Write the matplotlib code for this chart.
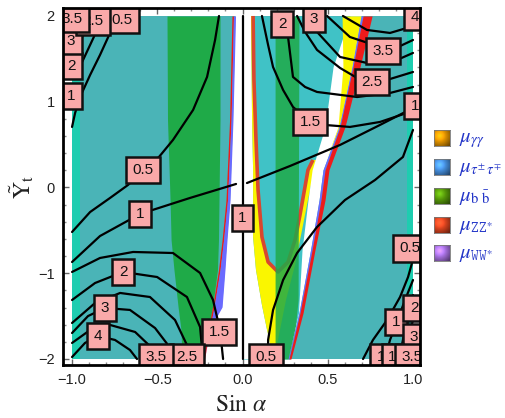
import numpy as np
import matplotlib
matplotlib.use('Agg')
import matplotlib.pyplot as plt
from matplotlib.ticker import MultipleLocator

plt.rcParams['mathtext.fontset'] = 'stix'
plt.rcParams['font.family'] = ['Liberation Sans', 'DejaVu Sans']

# ---------------- axes / ticks ----------------
SIN_ALPHA_RANGE = [-1.0, 1.0]
YT_RANGE = [-2.0, 2.0]
X_TICKS = [-1.0, -0.5, 0.0, 0.5, 1.0]
X_TICK_LABELS = ['\u22121.0', '\u22120.5', '0.0', '0.5', '1.0']
Y_TICKS = [-2, -1, 0, 1, 2]
Y_TICK_LABELS = ['\u22122', '\u22121', '0', '1', '2']

# ---------------- allowed regions ----------------
STRIP_L = [-1.0, -0.955]
STRIP_R = [0.965, 1.0]

YL = [2.0, 0.787, -0.146, -0.612, -0.962, -1.394, -1.662, -2.0]
GREEN_L_LEFT = [-0.443, -0.440, -0.425, -0.419, -0.402, -0.378, -0.361, -0.355]
GREEN_L_RIGHT = [-0.132, -0.132, -0.138, -0.141, -0.147, -0.176, -0.202, -0.232]
RED_L_LEFT = [-0.062, -0.076, -0.097, -0.120, -0.141, -0.176, -0.202, -0.232]
RED_L_RIGHT = [-0.053, -0.067, -0.088, -0.111, -0.132, -0.167, -0.193, -0.223]
BLUE_L_RIGHT = [-0.041, -0.056, -0.073, -0.091, -0.103, -0.120, -0.196, -0.223]

WHITE_C_Y = [2.0, 0.787, 0.204, -0.577, -0.962, -1.370, -1.662, -1.895, -2.0]
WHITE_C_X = [0.050, 0.056, 0.062, 0.062, 0.079, 0.114, 0.144, 0.173, 0.191]

YR = [2.0, 1.405, 0.706, 0.204, -0.146, -0.729, -1.464, -2.0]
RED_R_RIGHT = [0.760, 0.689, 0.601, 0.507, 0.484, 0.425, 0.355, 0.284]
RED_R_LEFT = [0.707, 0.648, 0.572, 0.484, 0.460, 0.408, 0.337, 0.273]
BLUE_R_LEFT = [0.695, 0.642, 0.566, 0.472, 0.449, 0.399, 0.331, 0.267]
WEDGE_LEFT = [0.630, 0.531, 0.484, 0.408, 0.384, 0.349, 0.328, 0.267]

YT = [2.0, 1.405, 0.706, 0.321]
YT_LEFT = [0.584, 0.589, 0.560, 0.490]
YT_RIGHT = [0.695, 0.642, 0.566, 0.490]

U_OUTER_X = [0.050, 0.056, 0.062, 0.062, 0.079, 0.114, 0.144, 0.167, 0.185, 0.202,
             0.255, 0.308, 0.349, 0.384, 0.413, 0.431]
U_OUTER_Y = [2.0, 0.787, 0.204, -0.577, -0.962, -1.370, -1.662, -1.872, -1.942, -1.837,
             -1.312, -0.904, -0.496, -0.146, 0.146, 0.321]
U_RED_X = [0.413, 0.384, 0.337, 0.308, 0.267, 0.208, 0.150, 0.114, 0.091, 0.079, 0.067, 0.062]
U_RED_Y = [0.321, 0.204, -0.321, -0.612, -0.869, -0.985, -0.869, -0.577, -0.029, 0.554, 1.254, 2.0]

GS_Y = [2.0, -1.312, -1.662, -2.0]
GS_LEFT = [0.191, 0.191, 0.191, 0.191]
GS_RIGHT = [0.331, 0.326, 0.308, 0.279]

# ---------------- contour lines ----------------
C_ZERO_X = [0.0, 0.0]
C_ZERO_Y = [-2.0, 2.0]
C1L_X = [-1.0, -0.836, -0.601, -0.308, -0.038]
C1L_Y = [-0.869, -0.566, -0.309, -0.122, 0.041]
C1R_X = [0.026, 0.279, 0.572, 0.806, 1.0]
C1R_Y = [0.052, 0.251, 0.496, 0.729, 0.927]
C05L_X = [-1.0, -0.894, -0.777, -0.672, -0.584, -0.490, -0.408, -0.290, -0.208, -0.161, -0.138]
C05L_Y = [-0.519, -0.286, -0.122, 0.029, 0.192, 0.356, 0.554, 0.904, 1.289, 1.720, 2.0]
T1_X = [-1.0, -0.982, -0.953, -0.894, -0.836, -0.777, -0.742]
T1_Y = [0.706, 0.869, 1.055, 1.312, 1.545, 1.802, 2.0]
T2_X = [-1.0, -0.941, -0.894, -0.853, -0.824]
T2_Y = [1.312, 1.463, 1.662, 1.837, 2.0]
T3_X = [-1.0, -0.941, -0.894, -0.865]
T3_Y = [1.662, 1.755, 1.883, 2.0]
A15_X = [-1.0, -0.836, -0.642, -0.408, -0.249, -0.173, -0.132, -0.114]
A15_Y = [-0.985, -0.822, -0.752, -0.764, -0.997, -1.312, -1.662, -2.0]
A2_X = [-1.0, -0.865, -0.701, -0.501, -0.326, -0.249, -0.232]
A2_Y = [-1.312, -1.114, -0.985, -1.044, -1.277, -1.627, -2.0]
A25_X = [-1.0, -0.865, -0.718, -0.543, -0.396, -0.326, -0.308]
A25_Y = [-1.580, -1.347, -1.230, -1.277, -1.545, -1.837, -2.0]
A3_X = [-1.0, -0.906, -0.806, -0.660, -0.513, -0.437, -0.413]
A3_Y = [-1.697, -1.499, -1.405, -1.428, -1.639, -1.837, -2.0]
A35_X = [-1.0, -0.894, -0.777, -0.630, -0.531, -0.501]
A35_Y = [-1.813, -1.662, -1.603, -1.685, -1.872, -2.0]
A4_X = [-1.0, -0.924, -0.848, -0.748, -0.660, -0.619]
A4_Y = [-1.977, -1.813, -1.732, -1.778, -1.895, -2.0]
R15_X = [0.114, 0.150, 0.179, 0.238, 0.296, 0.396, 0.484, 0.630, 0.806, 0.964, 1.0]
R15_Y = [2.0, 1.662, 1.405, 1.137, 0.939, 0.764, 0.729, 0.706, 0.764, 0.869, 0.904]
R2_X = [0.261, 0.267, 0.296, 0.367, 0.437, 0.672, 0.865, 1.0]
R2_Y = [2.0, 1.755, 1.289, 1.172, 1.114, 1.055, 1.102, 1.172]
R25_X = [0.320, 0.367, 0.437, 0.572, 0.672, 0.847, 1.0]
R25_Y = [2.0, 1.814, 1.604, 1.394, 1.277, 1.254, 1.347]
R3_X = [0.413, 0.437, 0.572, 0.730, 0.906, 1.0]
R3_Y = [2.0, 1.814, 1.522, 1.452, 1.487, 1.569]
R35_X = [0.496, 0.630, 0.736, 0.912, 1.0]
R35_Y = [2.0, 1.755, 1.685, 1.638, 1.720]
R4_X = [0.589, 0.730, 0.865, 0.964, 1.0]
R4_Y = [2.0, 1.837, 1.802, 1.860, 1.953]
R05_X = [0.150, 0.150, 0.179, 0.238, 0.320, 0.437, 0.601, 0.777, 0.941, 1.0]
R05_Y = [-2.0, -1.778, -1.429, -1.079, -0.764, -0.461, -0.146, 0.087, 0.356, 0.671]
BR05_X = [1.0, 0.994, 0.971, 0.924, 0.848, 0.765, 0.707]
BR05_Y = [-0.729, -0.881, -1.044, -1.277, -1.545, -1.778, -2.0]
BR1_X = [1.0, 0.953, 0.906, 0.865, 0.836]
BR1_Y = [-1.079, -1.312, -1.568, -1.778, -2.0]
BR2_X = [1.0, 0.994, 0.953, 0.918]
BR2_Y = [-1.254, -1.405, -1.662, -2.0]
BR3_X = [1.0, 0.971, 0.947]
BR3_Y = [-1.545, -1.778, -2.0]

CONTOURS = [(C_ZERO_X, C_ZERO_Y), (C1L_X, C1L_Y), (C1R_X, C1R_Y), (C05L_X, C05L_Y),
            (T1_X, T1_Y), (T2_X, T2_Y), (T3_X, T3_Y),
            (A15_X, A15_Y), (A2_X, A2_Y), (A25_X, A25_Y), (A3_X, A3_Y), (A35_X, A35_Y), (A4_X, A4_Y),
            (R15_X, R15_Y), (R2_X, R2_Y), (R25_X, R25_Y), (R3_X, R3_Y), (R35_X, R35_Y), (R4_X, R4_Y),
            (R05_X, R05_Y), (BR05_X, BR05_Y), (BR1_X, BR1_Y), (BR2_X, BR2_Y), (BR3_X, BR3_Y)]

LABEL_TEXT = ['1', '1', '1', '0.5', '1', '0.5', '2', '3', '2.5', '3.5',
              '1.5', '2', '2.5', '3', '3.5', '4',
              '1.5', '2', '2.5', '3', '3.5', '4',
              '0.5', '0.5', '1', '2', '3', '1', '1', '3.5']
LABEL_X = [0.0, -0.601, 1.012, -0.584, -1.006, -0.707, -1.006, -1.006, -0.876, -1.0,
           -0.138, -0.701, -0.326, -0.806, -0.507, -0.848,
           0.396, 0.232, 0.760, 0.419, 0.824, 1.012,
           0.138, 0.982, 0.900, 1.006, 1.006, 0.812, 0.880, 0.994]
LABEL_Y = [-0.356, -0.309, 0.95, 0.204, 1.067, 1.953, 1.417, 1.709, 1.94, 1.965,
           -1.685, -0.985, -1.977, -1.405, -1.977, -1.732,
           0.764, 1.907, 1.230, 1.965, 1.592, 1.99,
           -1.977, -0.711, -1.568, -1.405, -1.743, -1.977, -1.977, -1.977]

LEGEND_LABELS = [r'$\mu_{\gamma\gamma}$', r'$\mu_{\tau^{\pm}\,\tau^{\mp}}$',
                 r'$\mu_{\mathrm{b}\ \bar{\mathrm{b}}}$', r'$\mu_{\mathtt{ZZ}^{\ast}}$',
                 r'$\mu_{\mathtt{WW}^{\ast}}$']
LEGEND_COLORS = ['#F5A000', '#4C9BF0', '#5DA50A', '#EE4A22', '#B77CF5']

# ---------------- colours ----------------
TEAL = '#4AB4B7'
LIGHT = '#1ECDB0'
GREEN = '#1FAA48'
CYAN_R = '#40C2C6'
YELLOW = '#FAF600'
RED = '#EE1B1B'
BLUE = '#6A6AFF'
U_RED = '#D9472F'

fig = plt.figure(figsize=(5.06, 4.18), dpi=100)
ax = fig.add_axes([63 / 506, 1 - 365 / 418, 357 / 506, 357 / 418])
ax.set_xlim(-1.053, 1.041)
ax.set_ylim(-2.070, 2.093)
ax.set_facecolor('white')

ax.fill_between(SIN_ALPHA_RANGE, YT_RANGE[0], YT_RANGE[1], color=TEAL, lw=0, zorder=1)
ax.fill_between(STRIP_L, YT_RANGE[0], YT_RANGE[1], color=LIGHT, lw=0, zorder=1.1)
ax.fill_between(STRIP_R, YT_RANGE[0], YT_RANGE[1], color=LIGHT, lw=0, zorder=1.1)
ax.fill_betweenx(YL, GREEN_L_LEFT, GREEN_L_RIGHT, color=GREEN, lw=0, zorder=2)
ax.fill_betweenx(YR, 0, BLUE_R_LEFT, color=CYAN_R, lw=0, zorder=2)
ax.fill(BLUE_L_RIGHT + WHITE_C_X[::-1], YL + WHITE_C_Y[::-1], color='white', lw=0, zorder=3)
ax.fill(U_OUTER_X + U_RED_X, U_OUTER_Y + U_RED_Y, color=YELLOW, lw=0, zorder=3.5)
ax.plot(U_RED_X, U_RED_Y, color=U_RED, lw=2.6, zorder=3.6, solid_capstyle='butt')
ax.fill_betweenx(GS_Y, GS_LEFT, GS_RIGHT, color=GREEN, alpha=0.85, lw=0, zorder=3.7)
ax.fill_betweenx(YR, WEDGE_LEFT, BLUE_R_LEFT, color='white', lw=0, zorder=3.8)
ax.fill_betweenx(YT, YT_LEFT, YT_RIGHT, color=YELLOW, lw=0, zorder=3.9)
ax.fill_betweenx(YL, RED_L_LEFT, RED_L_RIGHT, color=RED, lw=0, zorder=4)
ax.fill_betweenx(YL, RED_L_RIGHT, BLUE_L_RIGHT, color=BLUE, lw=0, zorder=4)
ax.fill_betweenx(YR, BLUE_R_LEFT, RED_R_LEFT, color=BLUE, lw=0, zorder=4)
ax.fill_betweenx(YR, RED_R_LEFT, RED_R_RIGHT, color=RED, lw=0, zorder=4)

for xs, ys in CONTOURS:
    ax.plot(xs, ys, color='black', lw=1.6, zorder=6, solid_capstyle='round')

for t, lx, ly in zip(LABEL_TEXT, LABEL_X, LABEL_Y):
    ax.text(lx, ly, t, ha='center', va='center', fontsize=11, color='#111111',
            zorder=7, clip_on=True,
            bbox=dict(boxstyle='square,pad=0.42', fc='#F9A9A9', ec='#111111', lw=1.8))

ax.set_xticks(X_TICKS)
ax.set_xticklabels(X_TICK_LABELS)
ax.set_yticks(Y_TICKS)
ax.set_yticklabels(Y_TICK_LABELS)
ax.xaxis.set_minor_locator(MultipleLocator(0.1))
ax.yaxis.set_minor_locator(MultipleLocator(0.2))
ax.tick_params(which='major', direction='in', length=4, width=1, color='#666666',
               top=True, right=True, labelsize=10.5, labelcolor='#222222', pad=6)
ax.tick_params(which='minor', direction='in', length=2, width=1, color='#888888',
               top=True, right=True)
for sp in ax.spines.values():
    sp.set_linewidth(2)
    sp.set_color('black')
    sp.set_zorder(10)

fig.text(241 / 506, 1 - 405 / 418, r'$\mathrm{Sin}\ \alpha$', ha='center', va='center',
         fontsize=17, color='#222222')
fig.text(22 / 506, 1 - 187 / 418, r'$\tilde{\mathrm{Y}}_{\mathrm{t}}$', ha='center', va='center',
         fontsize=17, rotation=90, color='#222222')

# legend
LEG_ROWS = [138, 167, 196, 225, 253]
for lab, col, py in zip(LEGEND_LABELS, LEGEND_COLORS, LEG_ROWS):
    sa = fig.add_axes([434 / 506, 1 - (py + 8) / 418, 16 / 506, 16 / 418])
    g = np.linspace(0, 1, 20)
    gx, gy = np.meshgrid(g, g)
    d = np.sqrt((gx - 0.35) ** 2 + (gy - 0.35) ** 2)
    base = np.array(matplotlib.colors.to_rgb(col))
    shade = np.clip(1.25 - 0.9 * d, 0.45, 1.2)
    img = np.clip(base[None, None, :] * shade[:, :, None] + 0.15 * np.clip(0.4 - d, 0, 1)[:, :, None], 0, 1)
    sa.imshow(img, extent=[0, 1, 0, 1], origin='upper')
    sa.set_xticks([]); sa.set_yticks([])
    for sp in sa.spines.values():
        sp.set_linewidth(0.6); sp.set_color('#777777')
    fig.text(459 / 506, 1 - (py + 2) / 418, lab, ha='left', va='center', fontsize=15, color='#2436C8')

fig.savefig('out.png', dpi=100)
